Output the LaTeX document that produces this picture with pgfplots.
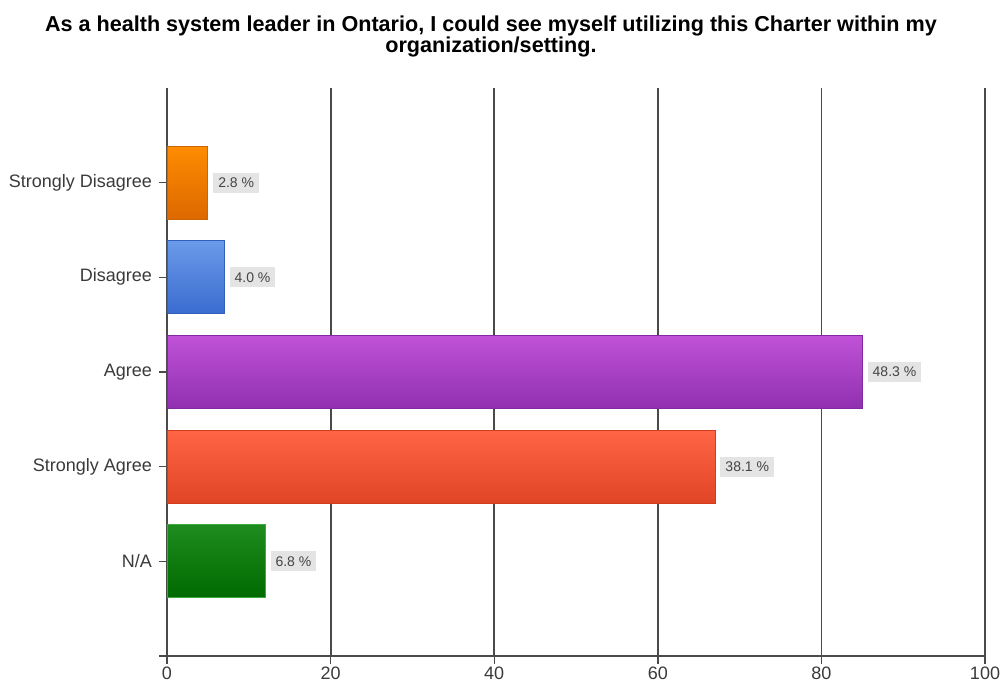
\documentclass[border=0pt]{standalone}
\usepackage{fontspec}
\setmainfont{Liberation Sans}
\usepackage{pgfplots}
\pgfplotsset{compat=1.18}
\definecolor{gridc}{HTML}{4A4A4A}
\definecolor{tickc}{HTML}{3A3A3A}
\definecolor{labbg}{HTML}{E4E4E4}
\definecolor{labtx}{HTML}{444444}
\begin{document}
\begin{tikzpicture}
\begin{axis}[
  scale only axis, width=409pt, height=284pt,
  xmin=0, xmax=100, ymin=0, ymax=6,
  axis x line=bottom, axis y line=left,
  axis line style={-, draw=gridc, line width=0.9pt},
  xtick={0,20,40,60,80,100},
  ytick={0,1,2,3,4,5},
  yticklabels={{}, N/A, Strongly Agree, Agree, Disagree, Strongly Disagree},
  tick align=outside, major tick length=4pt,
  tick style={draw=gridc, line width=0.7pt},
  xmajorgrids, major grid style={draw=gridc, line width=0.9pt},
  ticklabel style={font=\fontsize{9}{10}\selectfont, text=tickc},
  xticklabel style={yshift=2pt},
  /pgf/number format/assume math mode=true,
  clip=false,
  title={As a health system leader in Ontario, I could see myself utilizing this Charter within my\\organization/setting.},
  title style={at={(0.396,1.06)}, anchor=south, yshift=-11pt, align=center, font=\bfseries\fontsize{10.8}{10.5}\selectfont},
  every node near coord/.append style={fill=labbg, text=labtx, font=\fontsize{7}{8}\selectfont, inner xsep=2.5pt, inner ysep=2pt, minimum height=10pt, anchor=west, xshift=2.5pt},
]
\addplot[xbar, bar width=36.5pt, bar shift=0pt, draw=orange!80!black, top color={rgb,255:red,255;green,140;blue,0}, bottom color={rgb,255:red,221;green,104;blue,0}, nodes near coords={2.8 \%}] coordinates {(5,5)};
\addplot[xbar, bar width=36.5pt, bar shift=0pt, draw={rgb,255:red,50;green,95;blue,190}, top color={rgb,255:red,106;green,154;blue,232}, bottom color={rgb,255:red,58;green,108;blue,208}, nodes near coords={4.0 \%}] coordinates {(7,4)};
\addplot[xbar, bar width=36.5pt, bar shift=0pt, draw={rgb,255:red,130;green,40;blue,160}, top color={rgb,255:red,192;green,82;blue,216}, bottom color={rgb,255:red,144;green,48;blue,176}, nodes near coords={48.3 \%}] coordinates {(85,3)};
\addplot[xbar, bar width=36.5pt, bar shift=0pt, draw={rgb,255:red,210;green,60;blue,30}, top color={rgb,255:red,255;green,102;blue,69}, bottom color={rgb,255:red,224;green,69;blue,37}, nodes near coords={38.1 \%}] coordinates {(67,2)};
\addplot[xbar, bar width=36.5pt, bar shift=0pt, draw={rgb,255:red,60;green,170;blue,60}, top color={rgb,255:red,30;green,140;blue,30}, bottom color={rgb,255:red,0;green,106;blue,0}, nodes near coords={6.8 \%}] coordinates {(12,1)};
\end{axis}
\pgfresetboundingbox
\path[use as bounding box] ([shift={(-83.5pt,-14pt)}]current axis.south west) rectangle ([shift={(416.5pt,328pt)}]current axis.south west);
\end{tikzpicture}
\end{document}
